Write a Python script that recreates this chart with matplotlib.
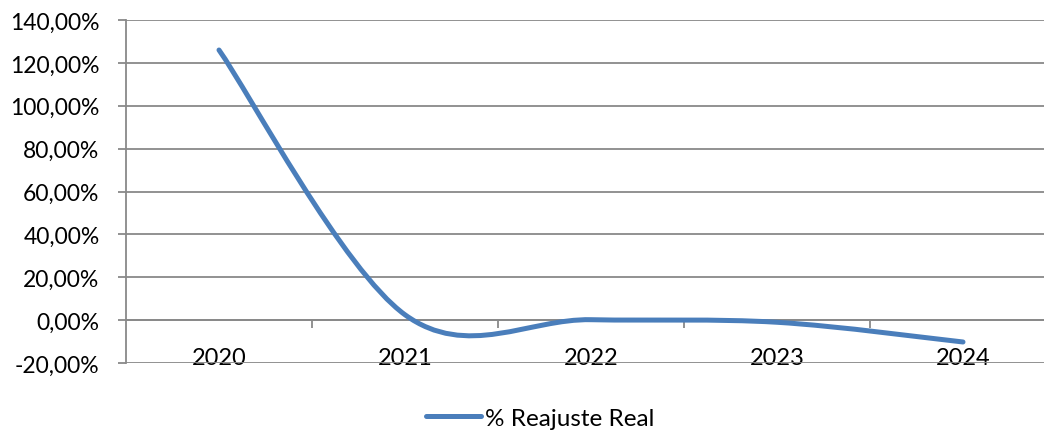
import matplotlib
matplotlib.use("Agg")
import matplotlib.pyplot as plt
from matplotlib.path import Path
from matplotlib.patches import PathPatch
from matplotlib.lines import Line2D
from matplotlib.ticker import FuncFormatter
import numpy as np

years = ['2020', '2021', '2022', '2023', '2024']
reajuste_real = [126.0, 2.5, 0.2, -1.0, -10.2]

plt.rcParams['font.family'] = ['Lato', 'DejaVu Sans']

W, H = 1044, 431
fig = plt.figure(figsize=(W / 100, H / 100), dpi=100)
ax = fig.add_axes([126 / W, 67 / H, 930 / W, 343 / H])

grid_c = '#898989'
blue = '#4A7EBB'

# Excel-like smoothed line: cubic Bezier through the points
x = np.arange(len(years), dtype=float)
y = np.array(reajuste_real)
pts = np.column_stack([x, y])
verts = [pts[0]]
codes = [Path.MOVETO]
n = len(pts)
for i in range(n - 1):
    p0 = pts[i - 1] if i > 0 else pts[i]
    p1, p2 = pts[i], pts[i + 1]
    p3 = pts[i + 2] if i + 2 < n else pts[i + 1]
    c1 = p1 + (p2 - p0) / 6
    c2 = p2 - (p3 - p1) / 6
    verts += [c1, c2, p2]
    codes += [Path.CURVE4] * 3
ax.add_patch(PathPatch(Path(verts, codes), fill=False, edgecolor=blue,
                       lw=3.6, capstyle='round', joinstyle='round', zorder=3))

ax.set_xlim(-0.5, len(years) - 0.5)
ax.set_ylim(-20, 140)
ax.set_yticks(np.arange(-20, 141, 20))
ax.yaxis.set_major_formatter(FuncFormatter(lambda v, p: f'{v:.2f}%'.replace('.', ',')))
ax.grid(axis='y', color=grid_c, lw=1.3)
ax.set_axisbelow(True)

for s in ['top', 'right']:
    ax.spines[s].set_visible(False)
ax.spines['left'].set_color(grid_c)
ax.spines['left'].set_linewidth(1.3)
ax.spines['bottom'].set_position(('data', 0))
ax.spines['bottom'].set_color(grid_c)
ax.spines['bottom'].set_linewidth(1.3)

ax.set_xticks(x)
ax.set_xticklabels(years)
ax.set_xticks(x[:-1] + 0.5, minor=True)
ax.tick_params(axis='x', which='major', length=0, pad=19, labelsize=17)
ax.tick_params(axis='x', which='minor', length=6, width=1.3, color=grid_c, direction='out')
ax.tick_params(axis='y', length=6, width=1.3, color=grid_c, pad=13, labelsize=16.5)

handle = Line2D([0], [0], color=blue, lw=3.6, solid_capstyle='round')
fig.legend([handle], ['% Reajuste Real'], loc='center', bbox_to_anchor=(540 / W, 1 - 419 / H),
           frameon=False, fontsize=17.5, handlelength=2.3, handletextpad=0.15)

fig.savefig('out.png', dpi=100)
